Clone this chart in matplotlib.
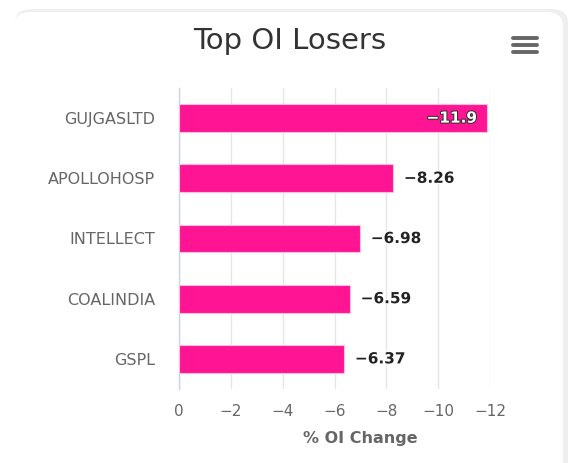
import matplotlib.pyplot as plt
import matplotlib.patheffects as pe
from matplotlib.patches import FancyBboxPatch
from matplotlib.lines import Line2D

# data
symbols = ["GUJGASLTD", "APOLLOHOSP", "INTELLECT", "COALINDIA", "GSPL"]
oi_change = [-11.9, -8.26, -6.98, -6.59, -6.37]
x_ticks = [0, -2, -4, -6, -8, -10, -12]

bar_color = "#ff1493"
label_gray = "#666666"

W, H = 570, 463
fig = plt.figure(figsize=(W / 100, H / 100), dpi=100)
fig.patch.set_facecolor("white")

# card: soft grey shadow at top/right, white card on top
shadow = FancyBboxPatch((15 / W, -0.05), 553 / W, 1.05 - 9 / H,
                        boxstyle="round,pad=0,rounding_size=0.03",
                        transform=fig.transFigure, facecolor="#efefef",
                        edgecolor="none", zorder=-11)
card = FancyBboxPatch((14 / W, -0.05), 549 / W, 1.05 - 12 / H,
                      boxstyle="round,pad=0,rounding_size=0.03",
                      transform=fig.transFigure, facecolor="white",
                      edgecolor="none", zorder=-10)
fig.patches.extend([shadow, card])

ax = fig.add_axes([179 / W, 1 - 389 / H, (490 - 179) / W, (389 - 88) / H])
ax.set_facecolor("none")
ax.set_zorder(2)

ypos = list(range(len(symbols)))
ax.barh(ypos, oi_change, height=0.46, color=bar_color,
        edgecolor="#ffc0dd", linewidth=0.8, zorder=3)

ax.set_xlim(0, -12)
ax.set_ylim(len(symbols) - 0.5, -0.5)
ax.set_xticks(x_ticks)
ax.set_xticklabels([str(t).replace("-", "\u2212") for t in x_ticks])
ax.set_yticks(ypos)
ax.set_yticklabels(symbols)

ax.grid(axis="x", color="#e6e6e6", linewidth=1, zorder=0)
ax.tick_params(axis="x", length=0, pad=11, labelsize=11, colors=label_gray)
ax.tick_params(axis="y", length=0, pad=17, labelsize=11.5, colors=label_gray)
for side in ["top", "right", "bottom"]:
    ax.spines[side].set_visible(False)
ax.spines["left"].set_color("#ccd6eb")
ax.spines["left"].set_linewidth(1)

ax.set_xlabel("% OI Change", fontsize=11.5, fontweight="bold",
              color=label_gray)
ax.xaxis.set_label_coords((360 - 179) / (490 - 179), -0.14)

# data labels
for y, v in zip(ypos, oi_change):
    txt = f"{v:g}".replace("-", "\u2212")
    if v <= -11:
        ax.text(v + 0.42, y, txt, ha="right", va="center", fontsize=11,
                fontweight="bold", color="white", zorder=5,
                path_effects=[pe.withStroke(linewidth=1.5, foreground="#333333")])
    else:
        ax.text(v - 0.42, y, txt, ha="left", va="center", fontsize=11,
                fontweight="bold", color="#222222", zorder=5,
                path_effects=[pe.withStroke(linewidth=1.5, foreground="white")])

fig.text(290 / W, 1 - 41 / H, "Top OI Losers", ha="center", va="center",
         fontsize=21, color="#333333")

# menu icon
for yy in [38, 45, 52]:
    fig.lines.append(Line2D([513 / W, 537 / W], [1 - yy / H, 1 - yy / H],
                            transform=fig.transFigure, color="#666666",
                            linewidth=2.8, solid_capstyle="round"))

fig.savefig("out.png", dpi=100, facecolor=fig.get_facecolor())
